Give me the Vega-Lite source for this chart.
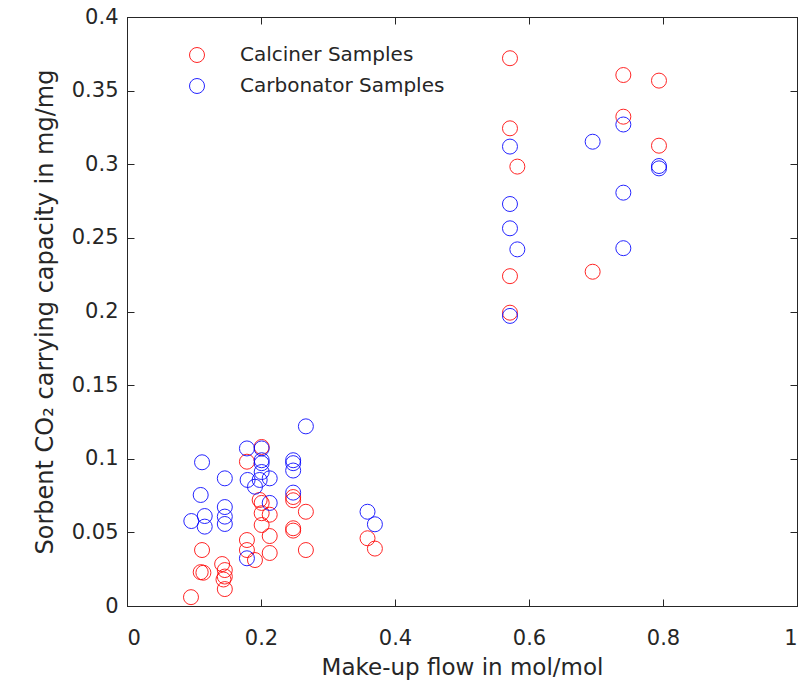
{
  "$schema": "https://vega.github.io/schema/vega-lite/v6.json",
  "width": 670,
  "height": 589,
  "autosize": "none",
  "padding": {"left": 127, "top": 17, "right": 9, "bottom": 79},
  "background": "white",
  "config": {
    "font": "DejaVu Sans",
    "view": {"stroke": "#262626", "strokeWidth": 1}
  },
  "data": {"values": [
    {"flow": 0.0955, "cap": 0.006, "series": "Calciner Samples"},
    {"flow": 0.110, "cap": 0.023, "series": "Calciner Samples"},
    {"flow": 0.114, "cap": 0.0226, "series": "Calciner Samples"},
    {"flow": 0.112, "cap": 0.038, "series": "Calciner Samples"},
    {"flow": 0.142, "cap": 0.0285, "series": "Calciner Samples"},
    {"flow": 0.146, "cap": 0.0244, "series": "Calciner Samples"},
    {"flow": 0.146, "cap": 0.020, "series": "Calciner Samples"},
    {"flow": 0.144, "cap": 0.018, "series": "Calciner Samples"},
    {"flow": 0.146, "cap": 0.0115, "series": "Calciner Samples"},
    {"flow": 0.179, "cap": 0.098, "series": "Calciner Samples"},
    {"flow": 0.179, "cap": 0.0448, "series": "Calciner Samples"},
    {"flow": 0.179, "cap": 0.038, "series": "Calciner Samples"},
    {"flow": 0.191, "cap": 0.0312, "series": "Calciner Samples"},
    {"flow": 0.201, "cap": 0.108, "series": "Calciner Samples"},
    {"flow": 0.198, "cap": 0.072, "series": "Calciner Samples"},
    {"flow": 0.201, "cap": 0.070, "series": "Calciner Samples"},
    {"flow": 0.201, "cap": 0.063, "series": "Calciner Samples"},
    {"flow": 0.213, "cap": 0.062, "series": "Calciner Samples"},
    {"flow": 0.201, "cap": 0.055, "series": "Calciner Samples"},
    {"flow": 0.213, "cap": 0.0475, "series": "Calciner Samples"},
    {"flow": 0.213, "cap": 0.036, "series": "Calciner Samples"},
    {"flow": 0.248, "cap": 0.074, "series": "Calciner Samples"},
    {"flow": 0.248, "cap": 0.0718, "series": "Calciner Samples"},
    {"flow": 0.248, "cap": 0.0528, "series": "Calciner Samples"},
    {"flow": 0.248, "cap": 0.0512, "series": "Calciner Samples"},
    {"flow": 0.267, "cap": 0.064, "series": "Calciner Samples"},
    {"flow": 0.267, "cap": 0.038, "series": "Calciner Samples"},
    {"flow": 0.359, "cap": 0.046, "series": "Calciner Samples"},
    {"flow": 0.370, "cap": 0.039, "series": "Calciner Samples"},
    {"flow": 0.5716, "cap": 0.372, "series": "Calciner Samples"},
    {"flow": 0.5716, "cap": 0.3244, "series": "Calciner Samples"},
    {"flow": 0.5826, "cap": 0.2984, "series": "Calciner Samples"},
    {"flow": 0.5716, "cap": 0.224, "series": "Calciner Samples"},
    {"flow": 0.5716, "cap": 0.1992, "series": "Calciner Samples"},
    {"flow": 0.695, "cap": 0.227, "series": "Calciner Samples"},
    {"flow": 0.7408, "cap": 0.3606, "series": "Calciner Samples"},
    {"flow": 0.7408, "cap": 0.3323, "series": "Calciner Samples"},
    {"flow": 0.794, "cap": 0.3568, "series": "Calciner Samples"},
    {"flow": 0.794, "cap": 0.3126, "series": "Calciner Samples"},
    {"flow": 0.096, "cap": 0.0577, "series": "Carbonator Samples"},
    {"flow": 0.110, "cap": 0.0754, "series": "Carbonator Samples"},
    {"flow": 0.112, "cap": 0.0976, "series": "Carbonator Samples"},
    {"flow": 0.116, "cap": 0.0611, "series": "Carbonator Samples"},
    {"flow": 0.116, "cap": 0.0539, "series": "Carbonator Samples"},
    {"flow": 0.146, "cap": 0.0867, "series": "Carbonator Samples"},
    {"flow": 0.146, "cap": 0.0672, "series": "Carbonator Samples"},
    {"flow": 0.146, "cap": 0.0607, "series": "Carbonator Samples"},
    {"flow": 0.146, "cap": 0.0557, "series": "Carbonator Samples"},
    {"flow": 0.179, "cap": 0.107, "series": "Carbonator Samples"},
    {"flow": 0.180, "cap": 0.0856, "series": "Carbonator Samples"},
    {"flow": 0.179, "cap": 0.0324, "series": "Carbonator Samples"},
    {"flow": 0.191, "cap": 0.081, "series": "Carbonator Samples"},
    {"flow": 0.201, "cap": 0.107, "series": "Carbonator Samples"},
    {"flow": 0.201, "cap": 0.099, "series": "Carbonator Samples"},
    {"flow": 0.201, "cap": 0.097, "series": "Carbonator Samples"},
    {"flow": 0.201, "cap": 0.091, "series": "Carbonator Samples"},
    {"flow": 0.198, "cap": 0.0856, "series": "Carbonator Samples"},
    {"flow": 0.213, "cap": 0.0867, "series": "Carbonator Samples"},
    {"flow": 0.213, "cap": 0.070, "series": "Carbonator Samples"},
    {"flow": 0.248, "cap": 0.099, "series": "Carbonator Samples"},
    {"flow": 0.248, "cap": 0.097, "series": "Carbonator Samples"},
    {"flow": 0.248, "cap": 0.092, "series": "Carbonator Samples"},
    {"flow": 0.248, "cap": 0.077, "series": "Carbonator Samples"},
    {"flow": 0.267, "cap": 0.122, "series": "Carbonator Samples"},
    {"flow": 0.359, "cap": 0.064, "series": "Carbonator Samples"},
    {"flow": 0.370, "cap": 0.0555, "series": "Carbonator Samples"},
    {"flow": 0.5716, "cap": 0.312, "series": "Carbonator Samples"},
    {"flow": 0.5716, "cap": 0.273, "series": "Carbonator Samples"},
    {"flow": 0.5716, "cap": 0.2565, "series": "Carbonator Samples"},
    {"flow": 0.5826, "cap": 0.2422, "series": "Carbonator Samples"},
    {"flow": 0.5716, "cap": 0.197, "series": "Carbonator Samples"},
    {"flow": 0.695, "cap": 0.3153, "series": "Carbonator Samples"},
    {"flow": 0.7408, "cap": 0.327, "series": "Carbonator Samples"},
    {"flow": 0.7408, "cap": 0.2807, "series": "Carbonator Samples"},
    {"flow": 0.7408, "cap": 0.243, "series": "Carbonator Samples"},
    {"flow": 0.794, "cap": 0.2988, "series": "Carbonator Samples"},
    {"flow": 0.794, "cap": 0.2972, "series": "Carbonator Samples"}
  ]},
  "layer": [
    {
      "mark": {"type": "point", "shape": "circle", "filled": false, "size": 225, "strokeWidth": 1, "opacity": 0.85},
      "encoding": {
        "x": {"field": "flow", "type": "quantitative",
          "scale": {"domain": [0, 1], "nice": false, "zero": false},
          "axis": {"orient": "bottom", "values": [0, 0.2, 0.4, 0.6, 0.8, 1], "labelExpr": "format(datum.value, '~g')",
            "title": "Make-up flow in mol/mol", "titleFontSize": 23, "titleFontWeight": "normal", "titleColor": "#262626", "titlePadding": 8,
            "labelFontSize": 21, "labelColor": "#262626", "labelPadding": 28,
            "tickSize": -7, "tickColor": "#262626", "domainColor": "#262626", "grid": false}},
        "y": {"field": "cap", "type": "quantitative",
          "scale": {"domain": [0, 0.4], "nice": false, "zero": false},
          "axis": {"orient": "left", "values": [0, 0.05, 0.1, 0.15, 0.2, 0.25, 0.3, 0.35, 0.4], "labelExpr": "format(datum.value, '~g')",
            "title": "Sorbent CO₂ carrying capacity in mg/mg", "titleFontSize": 24, "titleFontWeight": "normal", "titleColor": "#262626", "titlePadding": 14,
            "labelFontSize": 21, "labelColor": "#262626", "labelPadding": 16,
            "tickSize": -7, "tickColor": "#262626", "domainColor": "#262626", "grid": false}},
        "color": {"field": "series", "type": "nominal",
          "scale": {"domain": ["Calciner Samples", "Carbonator Samples"], "range": ["#FF0000", "#0000FF"]},
          "legend": {"orient": "none", "legendX": 60, "legendY": 28, "title": null,
            "symbolType": "circle", "symbolSize": 225, "symbolStrokeWidth": 1, "symbolFillColor": "transparent",
            "labelFontSize": 20, "labelColor": "#262626", "labelOffset": 33, "labelLimit": 500, "rowPadding": 11, "padding": 0}}
      }
    },
    {
      "mark": {"type": "point", "opacity": 0},
      "encoding": {
        "x": {"field": "flow", "type": "quantitative",
          "scale": {"domain": [0, 1], "nice": false, "zero": false},
          "axis": {"orient": "top", "values": [0, 0.2, 0.4, 0.6, 0.8, 1], "labels": false, "title": null,
            "tickSize": -7, "tickColor": "#262626", "domainColor": "#262626", "grid": false}},
        "y": {"field": "cap", "type": "quantitative",
          "scale": {"domain": [0, 0.4], "nice": false, "zero": false},
          "axis": {"orient": "right", "values": [0, 0.05, 0.1, 0.15, 0.2, 0.25, 0.3, 0.35, 0.4], "labels": false, "title": null,
            "tickSize": -7, "tickColor": "#262626", "domainColor": "#262626", "grid": false}}
      }
    }
  ],
  "resolve": {"axis": {"x": "independent", "y": "independent"}}
}
